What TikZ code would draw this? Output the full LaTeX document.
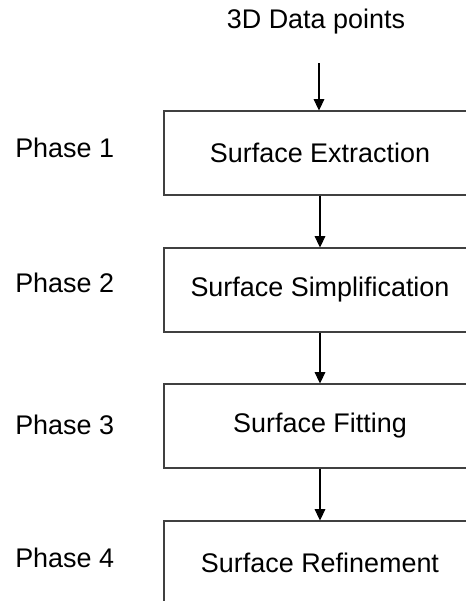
\documentclass[tikz,border=0pt]{standalone}
\usepackage{fontspec}
\setmainfont{Liberation Sans}
\usetikzlibrary{arrows.meta}
\begin{document}
\begin{tikzpicture}[x=0.75pt,y=-0.75pt,
  txt/.style={font=\fontsize{20.2pt}{24pt}\selectfont, inner sep=0pt},
  stage/.style={txt, draw=black!75, line width=0.8pt, minimum width=312*0.75pt, minimum height=84*0.75pt},
  arr/.style={draw=black, line width=0.8pt, -{Triangle[length=8.5pt,width=8pt]}}]
\useasboundingbox (0,0) rectangle (466,601);
\clip (0,0) rectangle (466,601);
\node[txt] (src) at (316,22) {3D Data points};
\coordinate (start) at (319,63);
\node[stage] (b1) at (320,153) {Surface Extraction};
\node[stage] (b2) at (320,290) {Surface Simplification};
\node[stage] (b3) at (320,426) {Surface Fitting};
\node[stage] (b4) at (320,563) {Surface Refinement};
\node[txt, anchor=west] (p1) at (15,148) {Phase 1};
\node[txt, anchor=west] (p2) at (15,283) {Phase 2};
\node[txt, anchor=west] (p3) at (15,425) {Phase 3};
\node[txt, anchor=west] (p4) at (15,558) {Phase 4};
\draw[arr] (start) -- (start |- b1.north);
\draw[arr] (b1.south) -- (b2.north);
\draw[arr] (b2.south) -- (b3.north);
\draw[arr] (b3.south) -- (b4.north);
\end{tikzpicture}
\end{document}
